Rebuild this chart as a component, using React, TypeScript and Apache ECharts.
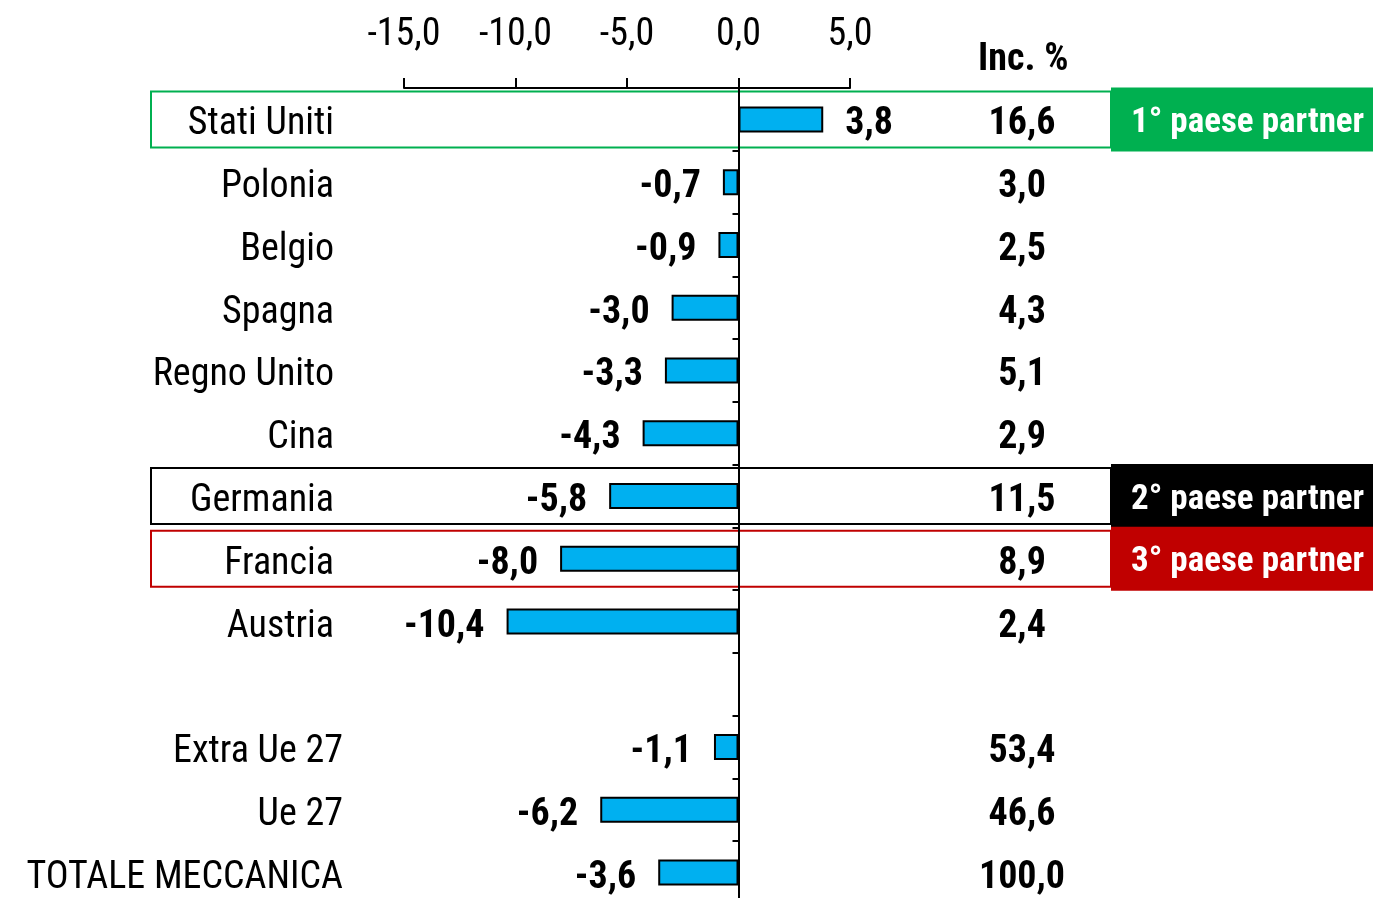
import React, { useEffect, useRef } from 'react';
import * as echarts from 'echarts';

const categories = ['Stati Uniti', 'Polonia', 'Belgio', 'Spagna', 'Regno Unito', 'Cina', 'Germania', 'Francia', 'Austria', '', 'Extra Ue 27', 'Ue 27', 'TOTALE MECCANICA'];
const variations: (number | null)[] = [3.8, -0.7, -0.9, -3.0, -3.3, -4.3, -5.8, -8.0, -10.4, null, -1.1, -6.2, -3.6];
const incidence: (number | null)[] = [16.6, 3.0, 2.5, 4.3, 5.1, 2.9, 11.5, 8.9, 2.4, null, 53.4, 46.6, 100.0];
const xMin = -15;
const xMax = 5;
const xInterval = 5;
const incHeader = 'Inc. %';
const partnerCategories = ['Stati Uniti', 'Germania', 'Francia'];
const partnerLabels = ['1° paese partner', '2° paese partner', '3° paese partner'];
const partnerColors = ['#00B050', '#000000', '#C00000'];

const FONT = "'Liberation Sans Narrow', 'Arial Narrow', 'Roboto Condensed', 'DejaVu Sans Condensed', sans-serif";
const fmt = (v: number | null) => (v == null ? '' : v.toFixed(1).replace('.', ','));
const boldRich = { v: { fontFamily: FONT, fontSize: 38, fontWeight: 'bold', color: '#000', padding: [4, 0, 0, 0] } };

export default function App() {
  const ref = useRef<HTMLDivElement>(null);
  useEffect(() => {
    if (!ref.current) return;
    const chart = echarts.init(ref.current, undefined, { renderer: 'svg' });
    chart.setOption({
      animation: false,
      grid: { left: 404, right: 523, top: 88, height: 816, containLabel: false, outerBoundsMode: 'none' },
      xAxis: {
        type: 'value',
        position: 'top',
        min: xMin,
        max: xMax,
        interval: xInterval,
        axisLine: { show: true, lineStyle: { color: '#000', width: 2 } },
        axisTick: { show: true, length: 10, lineStyle: { color: '#000', width: 2 } },
        splitLine: { show: false },
        axisLabel: {
          margin: 37,
          fontFamily: FONT,
          fontSize: 38,
          color: '#000',
          formatter: (v: number) => fmt(v),
        },
      },
      yAxis: [
        {
          type: 'category',
          inverse: true,
          data: categories,
          axisLine: { show: true, onZero: true, lineStyle: { color: '#000', width: 2 } },
          axisTick: { show: true, length: 6, lineStyle: { color: '#000', width: 2 } },
          axisLabel: { show: false },
          splitLine: { show: false },
        },
        {
          type: 'category',
          inverse: true,
          position: 'left',
          data: categories,
          axisLine: { show: false },
          axisTick: { show: false },
          axisLabel: {
            margin: 61,
            fontFamily: FONT,
            fontSize: 38,
            color: '#000',
            formatter: (v: string, i: number) => (i < 10 ? `{a|${v}}` : `{b|${v}}`),
            rich: {
              a: { fontFamily: FONT, fontSize: 38, color: '#000', padding: [4, 9, 0, 0] },
              b: { fontFamily: FONT, fontSize: 38, color: '#000', padding: [4, 0, 0, 0] },
            },
          },
        },
        {
          type: 'category',
          inverse: true,
          position: 'right',
          data: incidence.map(fmt),
          axisLine: { show: false },
          axisTick: { show: false },
          axisLabel: {
            margin: 172,
            align: 'center',
            fontFamily: FONT,
            fontSize: 38,
            fontWeight: 'bold',
            color: '#000',
            formatter: (v: string) => (v ? `{v|${v}}` : ''),
            rich: boldRich,
          },
        },
      ],
      series: [
        {
          type: 'bar',
          yAxisIndex: 0,
          barWidth: 26,
          data: variations.map((v) => ({
            value: v,
            label: {
              show: v != null,
              position: v != null && v >= 0 ? 'right' : 'left',
            },
          })),
          itemStyle: { color: '#00B0F0', borderColor: '#000', borderWidth: 2 },
          label: {
            distance: 22,
            fontFamily: FONT,
            fontSize: 38,
            fontWeight: 'bold',
            color: '#000',
            formatter: (p: any) => `{v|${fmt(p.value)}}`,
            rich: boldRich,
          },
        },
      ],
    });

    const graphics: any[] = [
      {
        type: 'text',
        left: 978,
        top: 38,
        style: { text: incHeader, fontFamily: FONT, fontSize: 38, fontWeight: 'bold', fill: '#000' },
      },
    ];
    partnerCategories.forEach((c, i) => {
      const cy = chart.convertToPixel({ yAxisIndex: 0 }, c) as number;
      graphics.push({
        type: 'rect',
        z: 0,
        shape: { x: 151, y: cy - 28, width: 960, height: 56 },
        style: { fill: 'none', stroke: partnerColors[i], lineWidth: 2 },
      });
      graphics.push({
        type: 'rect',
        z: 0,
        shape: { x: 1111, y: cy - 32, width: 270, height: 64 },
        style: { fill: partnerColors[i] },
      });
      graphics.push({
        type: 'text',
        z: 1,
        x: 1131,
        y: cy + 1,
        style: {
          text: partnerLabels[i],
          fontFamily: FONT,
          fontSize: 35,
          fontWeight: 'bold',
          fill: '#fff',
          verticalAlign: 'middle',
        },
      });
    });
    chart.setOption({ graphic: graphics });

    return () => chart.dispose();
  }, []);
  return <div ref={ref} style={{ position: 'fixed', left: 0, top: 0, width: 1373, height: 898 }} />;
}
